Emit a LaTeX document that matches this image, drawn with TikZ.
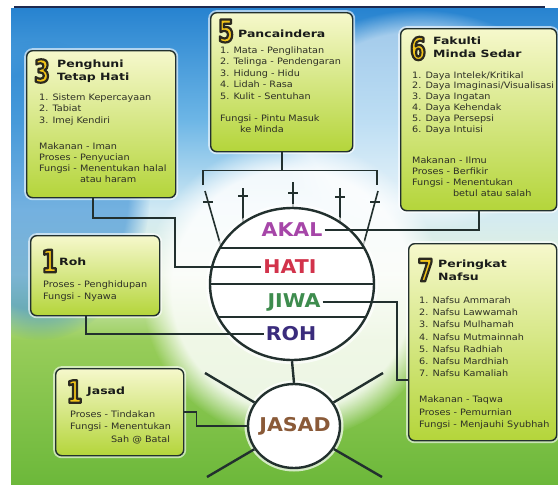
\documentclass[tikz,border=0pt]{standalone}
\usepackage{fontspec}
\setmainfont{DejaVu Sans}
\newfontfamily\isifont[FakeStretch=1.1]{DejaVu Sans}
\newfontfamily\judulfont[FakeStretch=1.25]{DejaVu Sans}
\newfontfamily\angkafont[FakeStretch=0.72]{DejaVu Sans}
\newfontfamily\lapisfont[FakeStretch=1.08]{DejaVu Sans}
\usetikzlibrary{shapes.geometric,fadings}

\definecolor{tepi}{HTML}{22302E}
\definecolor{kuningmuda}{HTML}{F6F8CC}
\definecolor{hijaulimau}{HTML}{B4D53A}
\definecolor{teks}{HTML}{2E3026}
\definecolor{judulwarna}{HTML}{1A1C1A}
\definecolor{emas}{HTML}{F1C419}
\definecolor{ungu}{HTML}{A646A8}
\definecolor{merah}{HTML}{D2334B}
\definecolor{hijaujiwa}{HTML}{3E8C4E}
\definecolor{biruroh}{HTML}{3A2C7C}
\definecolor{coklat}{HTML}{8A5A38}
\definecolor{latarA}{HTML}{2783D0}
\definecolor{latarB}{HTML}{6DB6E6}
\definecolor{latarC}{HTML}{D2EAF4}
\definecolor{latarD}{HTML}{E4F2D8}
\definecolor{latarE}{HTML}{98CD5A}
\definecolor{latarF}{HTML}{6CB83A}
\definecolor{garisatas}{HTML}{1E2A50}

% angka bergaris tepi (isi kuning, tepi gelap)
\newcommand{\angka}[1]{{\color{emas}%
  \special{pdf:literal direct q 2 Tr 2.2 w 1 j 0.17 0.16 0.12 RG}#1%
  \special{pdf:literal direct 0 Tr Q}}}

\tikzset{
  kotak/.style={draw=tepi, line width=1.4pt, rounded corners=6pt,
    top color=kuningmuda, bottom color=hijaulimau, anchor=north west, inner sep=0pt,
    preaction={draw=white, line width=5pt, draw opacity=0.6}},
  angkagaya/.style={inner sep=0pt, font=\angkafont\bfseries\fontsize{31}{31}\selectfont},
  judul/.style={anchor=north west, align=left, inner sep=0pt, text=judulwarna,
    font=\judulfont\bfseries\fontsize{10}{13}\selectfont},
  isi/.style={anchor=north west, align=left, inner sep=0pt, text=teks,
    font=\isifont\fontsize{8.8}{#1}\selectfont},
  lapis/.style={inner sep=2pt, font=\lapisfont\bfseries\fontsize{19}{19}\selectfont},
  garis/.style={draw=tepi, line width=1.8pt},
  antena/.style={draw=tepi, line width=1.6pt}
}

\begin{document}
\begin{tikzpicture}[x=1pt,y=-1pt]
\useasboundingbox (0,0) rectangle (558,485);
\fill[white] (0,0) rectangle (558,485);
\shade[top color=latarA, bottom color=latarB] (11,8) rectangle (558,120.5);
\shade[top color=latarB, bottom color=latarC] (11,120) rectangle (558,210.5);
\shade[top color=latarC, bottom color=latarD] (11,210) rectangle (558,275.5);
\shade[top color=latarD, bottom color=latarE] (11,275) rectangle (558,340.5);
\shade[top color=latarE, bottom color=latarF] (11,340) rectangle (558,485);
\begin{scope}
\clip (11,8) rectangle (558,485);
\fill[latarA, path fading=circle with fuzzy edge 20 percent, fill opacity=0.55]
  (40,190) ellipse [x radius=110pt, y radius=150pt];
\fill[white, path fading=circle with fuzzy edge 20 percent, fill opacity=0.55]
  (420,120) ellipse [x radius=150pt, y radius=110pt];
\fill[white, path fading=circle with fuzzy edge 20 percent, fill opacity=0.85]
  (292,290) ellipse [x radius=150pt, y radius=150pt];
\end{scope}
\draw[garisatas, line width=1.2pt] (14,7) -- (545,7);

% kotak
\path (210,12) node (pancaindera) [kotak, minimum width=142pt, minimum height=139pt] {};
\path (226,31) node (pancaangka) [angkagaya] {\angka{5}};
\path (238,29.4) node (pancajudul) [judul] {Pancaindera};
\path (220,46.3) node (pancaisi) [isi=11.5] {1. Mata - Penglihatan\\ 2. Telinga - Pendengaran\\
  3. Hidung - Hidu\\ 4. Lidah - Rasa\\ 5. Kulit - Sentuhan\\[10.5pt]
  Fungsi - Pintu Masuk\\ \hspace*{20pt}ke Minda};

\path (26,50) node (penghuni) [kotak, minimum width=149pt, minimum height=147pt] {};
\path (42,71) node (penghuniangka) [angkagaya] {\angka{3}};
\path (57,59.4) node (penghunijudul) [judul] {Penghuni\\ Tetap Hati};
\path (39,93.8) node (penghuniisi) [isi=11.2] {1. Sistem Kepercayaan\\ 2. Tabiat\\
  3. Imej Kendiri\\[14.8pt] Makanan - Iman\\ Proses - Penyucian\\
  Fungsi - Menentukan halal\\ \hphantom{Fungsi - }atau haram};

\path (400,28) node (fakulti) [kotak, minimum width=156pt, minimum height=182pt] {};
\path (418,48.5) node (fakultiangka) [angkagaya] {\angka{6}};
\path (433,36.4) node (fakultijudul) [judul] {Fakulti\\ Minda Sedar};
\path (412,71.3) node (fakultiisi) [isi=10.8] {1. Daya Intelek/Kritikal\\
  2. Daya Imaginasi/Visualisasi\\ 3. Daya Ingatan\\ 4. Daya Kehendak\\
  5. Daya Persepsi\\ 6. Daya Intuisi\\[21pt] Makanan - Ilmu\\ Proses - Berfikir\\
  Fungsi - Menentukan\\ \hphantom{Fungsi - }betul atau salah};

\path (30,235) node (rohkotak) [kotak, minimum width=129pt, minimum height=80pt] {};
\path (49.5,261) node (rohangka) [angkagaya] {\angka{1}};
\path (59,257.4) node (rohjudul) [judul] {Roh};
\path (43,280.3) node (rohisi) [isi=12.5] {Proses - Penghidupan\\ Fungsi - Nyawa};

\path (55,368) node (jasadkotak) [kotak, minimum width=128pt, minimum height=87pt] {};
\path (74.5,391.5) node (jasadangka) [angkagaya] {\angka{1}};
\path (87,386.4) node (jasadjudul) [judul] {Jasad};
\path (70,410.3) node (jasadisi) [isi=12.5] {Proses - Tindakan\\ Fungsi - Menentukan\\
  \hphantom{Fungsi - }Sah @ Batal};

\path (408,243) node (nafsu) [kotak, minimum width=148pt, minimum height=197pt] {};
\path (425.5,270) node (nafsuangka) [angkagaya] {\angka{7}};
\path (438,259.4) node (nafsujudul) [judul] {Peringkat\\ Nafsu};
\path (419,296.3) node (nafsuisi) [isi=12.3] {1. Nafsu Ammarah\\ 2. Nafsu Lawwamah\\
  3. Nafsu Mulhamah\\ 4. Nafsu Mutmainnah\\ 5. Nafsu Radhiah\\ 6. Nafsu Mardhiah\\
  7. Nafsu Kamaliah\\[13.7pt] Makanan - Taqwa\\ Proses - Pemurnian\\
  Fungsi - Menjauhi Syubhah};

% antena
\foreach \ax/\ay/\bx/\by in {205/191/222/250, 243/188/243/240, 293/182/293/240,
    340/188/340/240, 378/191/362/250}
  \draw[antena] (\ax,\ay) -- (\bx,\by);
\foreach \cx/\cy in {208/202, 243/196, 293/193, 340/197, 375/202}
  \draw[antena, line width=1.4pt] (\cx-5,\cy) -- (\cx+5,\cy);

\path (292,284) node (bulat) [ellipse, draw=tepi, line width=2.4pt, fill=white,
  minimum width=164pt, minimum height=152pt, inner sep=0pt,
  preaction={draw=white, line width=8pt, draw opacity=0.7}] {};
\begin{scope}
\clip (292,284) ellipse [x radius=82pt, y radius=76pt];
\foreach \ly in {248,284,317}
  \draw[draw=tepi, line width=2.4pt] (200,\ly) -- (390,\ly);
\end{scope}

\path (292,230) node (akal) [lapis, text=ungu] {AKAL};
\path (290,267) node (hati) [lapis, text=merah] {HATI};
\path (294,302) node (jiwa) [lapis, text=hijaujiwa] {JIWA};
\path (291,334) node (roh) [lapis, text=biruroh] {ROH};

\coordinate (s1) at (205,373);
\coordinate (s2) at (383,373);
\coordinate (s3) at (207,477);
\coordinate (s4) at (382,477);
\path (294,426) node (jasadc) [ellipse, draw=tepi, line width=2.4pt, fill=white,
  minimum width=92pt, minimum height=84pt, inner sep=0pt,
  preaction={draw=white, line width=7pt, draw opacity=0.7}] {};
\path (295,426) node (jasad) [lapis, text=coklat] {JASAD};
\foreach \s in {s1,s2,s3,s4}
  \draw[garis, line width=2.4pt] (jasadc) -- (\s);
\draw[garis, line width=2.4pt] (bulat.south) -- (jasadc.north);

% penyambung
\coordinate (kiri) at (203,185);
\coordinate (kanan) at (377,185);
\coordinate (belok) at (175,218);
\coordinate (sambung) at (397,380);
\draw[garis] (pancaindera.south) -- ++(0,18) coordinate (simpang);
\draw[garis] (kiri) |- (simpang) -| (kanan);
\draw[garis] (akal.east) -| (fakulti.south);
\draw[garis] ([xshift=-8pt]penghuni.south) |- (belok) |- (hati.west);
\draw[garis] ([xshift=-9pt]rohkotak.south) |- (roh.west);
\draw[garis] (jiwa.east) -| (sambung) -- (sambung -| nafsu.west);
\draw[garis] (jasadkotak.east) -- ++(12,0) |- (jasadc.west);
\end{tikzpicture}
\end{document}
